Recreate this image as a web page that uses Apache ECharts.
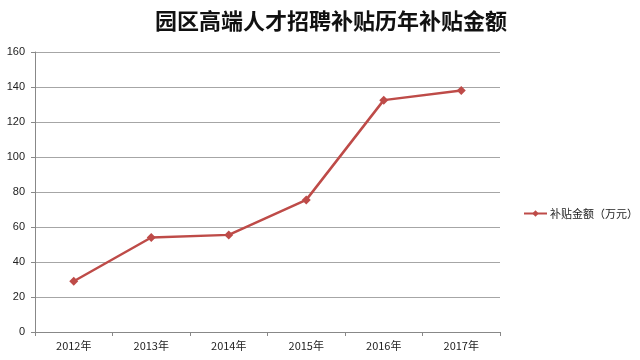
<!DOCTYPE html>
<html><head><meta charset="utf-8">
<script src="https://cdn.jsdelivr.net/npm/echarts@6/dist/echarts.min.js"></script>
<style>html,body{margin:0;padding:0;background:#fff}#c{width:640px;height:360px}</style>
</head><body><div id="c"></div>
<script>
const titleText = '园区高端人才招聘补贴历年补贴金额';
const seriesName = '补贴金额（万元）';
const categories = ['2012年','2013年','2014年','2015年','2016年','2017年'];
const values = [29, 54, 55.5, 75.5, 132.5, 138];
const yTicks = {min: 0, max: 160, interval: 20};

const chart = echarts.init(document.getElementById('c'));
chart.setOption({
  backgroundColor: '#fff',
  animation: false,
  title: {
    text: titleText, left: 326, top: 5, textAlign: 'center',
    textStyle: {fontFamily: 'Noto Sans CJK SC', fontWeight: 'bold', fontSize: 22, color: '#111'}
  },
  legend: {
    data: [seriesName], left: 518, top: 203,
    itemWidth: 23, itemHeight: 8, itemGap: 3,
    textStyle: {fontFamily: 'Noto Sans CJK SC', fontSize: 11, color: '#222', padding: [0,0,0,-2]}
  },
  grid: {left: 35, right: 140, top: 52, bottom: 28, containLabel: false},
  xAxis: {
    type: 'category', data: categories, boundaryGap: true,
    axisLine: {lineStyle: {color: '#888'}},
    axisTick: {show: true, length: 4, alignWithLabel: false, lineStyle: {color: '#888'}},
    axisLabel: {fontFamily: 'Noto Sans CJK SC', fontSize: 11, color: '#222', margin: 8}
  },
  yAxis: {
    type: 'value', min: yTicks.min, max: yTicks.max, interval: yTicks.interval,
    axisLine: {show: true, lineStyle: {color: '#888'}},
    axisTick: {show: true, length: 4, inside: false, lineStyle: {color: '#888'}},
    splitLine: {lineStyle: {color: '#a6a6a6', width: 1}},
    axisLabel: {fontFamily: 'Arial, Liberation Sans', fontSize: 11, color: '#222', margin: 10}
  },
  series: [{
    name: seriesName, type: 'line', data: values,
    symbol: 'diamond', symbolSize: 9,
    lineStyle: {color: '#BE4B48', width: 2.5},
    itemStyle: {color: '#BE4B48'}
  }]
});
</script></body></html>
